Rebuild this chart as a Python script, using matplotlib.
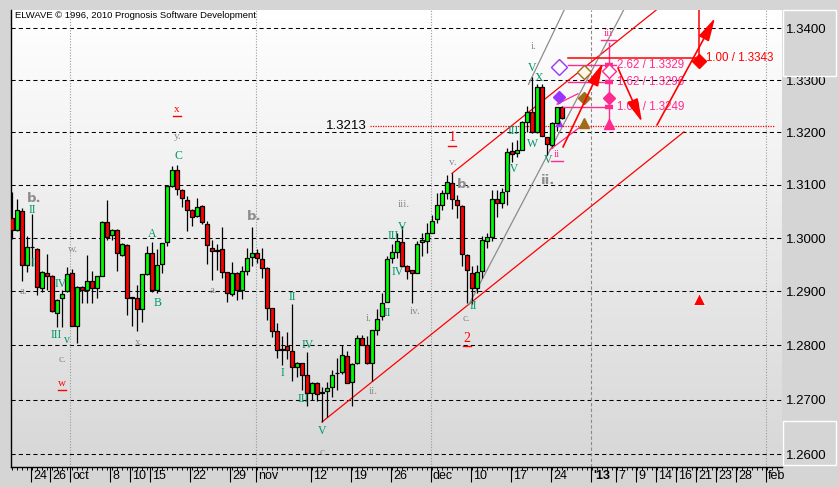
import numpy as np
import matplotlib
matplotlib.use("Agg")
import matplotlib.pyplot as plt
from matplotlib.transforms import offset_copy, blended_transform_factory
from matplotlib.patches import Rectangle
from matplotlib.ticker import NullLocator
from matplotlib.colors import LinearSegmentedColormap

# ---------------- data (EUR/USD style candles) ----------------
opens = [1.3037, 1.3015, 1.3050, 1.2950, 1.2984, 1.2980, 1.2907, 1.2935, 1.2928, 1.2860,
         1.2888, 1.2900, 1.2934, 1.2836, 1.2909, 1.2903, 1.2920, 1.2907, 1.2929, 1.3030,
         1.3005, 1.3016, 1.2969, 1.2986, 1.2887, 1.2887, 1.2868, 1.2932, 1.2971, 1.2903,
         1.2951, 1.2993, 1.3098, 1.3128, 1.3091, 1.3072, 1.3053, 1.3041, 1.3061, 1.3027,
         1.2981, 1.2976, 1.2980, 1.2936, 1.2896, 1.2935, 1.2902, 1.2939, 1.2965, 1.2971,
         1.2960, 1.2944, 1.2869, 1.2827, 1.2792, 1.2798, 1.2790, 1.2760, 1.2767, 1.2745,
         1.2712, 1.2731, 1.2712, 1.2716, 1.2723, 1.2748, 1.2751, 1.2781, 1.2733, 1.2767,
         1.2814, 1.2801, 1.2767, 1.2828, 1.2854, 1.2881, 1.2962, 1.2973, 1.2993, 1.2948,
         1.2940, 1.2935, 1.2992, 1.2995, 1.3010, 1.3035, 1.3063, 1.3085, 1.3104, 1.3071,
         1.3061, 1.2968, 1.2935, 1.2907, 1.2938, 1.2995, 1.3002, 1.3073, 1.3066, 1.3088,
         1.3164, 1.3160, 1.3167, 1.3220, 1.3238, 1.3200, 1.3287, 1.3191, 1.3175, 1.3218,
         1.3248]
highs = [1.3086, 1.3074, 1.3056, 1.3004, 1.3046, 1.2981, 1.2938, 1.2970, 1.2930, 1.2886,
         1.2902, 1.2945, 1.2942, 1.2910, 1.2910, 1.2968, 1.2938, 1.2929, 1.3032, 1.3071,
         1.3017, 1.3017, 1.2990, 1.2988, 1.2889, 1.2912, 1.2933, 1.2985, 1.2993, 1.2979,
         1.2991, 1.3099, 1.3136, 1.3138, 1.3092, 1.3079, 1.3055, 1.3076, 1.3062, 1.3032,
         1.2996, 1.2988, 1.3021, 1.2937, 1.2955, 1.2936, 1.2947, 1.2982, 1.3020, 1.2979,
         1.2982, 1.2945, 1.2870, 1.2842, 1.2818, 1.2825, 1.2876, 1.2769, 1.2768, 1.2788,
         1.2732, 1.2732, 1.2723, 1.2733, 1.2755, 1.2777, 1.2801, 1.2790, 1.2767, 1.2819,
         1.2819, 1.2818, 1.2829, 1.2867, 1.2898, 1.2966, 1.2988, 1.3010, 1.3023, 1.2949,
         1.2941, 1.2995, 1.3010, 1.3029, 1.3044, 1.3085, 1.3090, 1.3119, 1.3122, 1.3082,
         1.3062, 1.2970, 1.2948, 1.2950, 1.3003, 1.3010, 1.3091, 1.3091, 1.3094, 1.3170,
         1.3182, 1.3185, 1.3222, 1.3251, 1.3307, 1.3292, 1.3292, 1.3192, 1.3220, 1.3249,
         1.3250]
lows = [1.2998, 1.3013, 1.2920, 1.2936, 1.2947, 1.2893, 1.2899, 1.2903, 1.2862, 1.2834,
        1.2834, 1.2899, 1.2835, 1.2805, 1.2878, 1.2878, 1.2878, 1.2887, 1.2928, 1.2996,
        1.2996, 1.2938, 1.2967, 1.2857, 1.2836, 1.2826, 1.2843, 1.2931, 1.2899, 1.2898,
        1.2935, 1.2985, 1.3097, 1.3082, 1.3058, 1.3013, 1.3023, 1.3040, 1.3026, 1.2951,
        1.2922, 1.2940, 1.2926, 1.2880, 1.2892, 1.2884, 1.2886, 1.2931, 1.2948, 1.2953,
        1.2926, 1.2847, 1.2816, 1.2777, 1.2763, 1.2775, 1.2735, 1.2742, 1.2717, 1.2689,
        1.2700, 1.2697, 1.2659, 1.2669, 1.2705, 1.2717, 1.2747, 1.2730, 1.2689, 1.2766,
        1.2800, 1.2766, 1.2735, 1.2820, 1.2846, 1.2880, 1.2954, 1.2963, 1.2947, 1.2923,
        1.2879, 1.2934, 1.2966, 1.2972, 1.3009, 1.3028, 1.3052, 1.3073, 1.3054, 1.3038,
        1.2948, 1.2879, 1.2876, 1.2898, 1.2926, 1.2981, 1.2995, 1.3040, 1.3057, 1.3063,
        1.3144, 1.3154, 1.3166, 1.3200, 1.3199, 1.3198, 1.3193, 1.3157, 1.3171, 1.3203,
        1.3226]
closes = [1.3015, 1.3052, 1.2950, 1.2984, 1.2983, 1.2909, 1.2937, 1.2929, 1.2863, 1.2885,
          1.2896, 1.2932, 1.2836, 1.2909, 1.2903, 1.2919, 1.2906, 1.2928, 1.3031, 1.3002,
          1.3016, 1.2971, 1.2988, 1.2887, 1.2889, 1.2868, 1.2932, 1.2971, 1.2903, 1.2950,
          1.2990, 1.3098, 1.3128, 1.3092, 1.3076, 1.3053, 1.3040, 1.3059, 1.3031, 1.2987,
          1.2976, 1.2978, 1.2937, 1.2898, 1.2935, 1.2902, 1.2938, 1.2962, 1.2971, 1.2962,
          1.2944, 1.2870, 1.2826, 1.2792, 1.2794, 1.2791, 1.2760, 1.2768, 1.2745, 1.2712,
          1.2731, 1.2711, 1.2714, 1.2722, 1.2745, 1.2748, 1.2783, 1.2731, 1.2766, 1.2814,
          1.2801, 1.2767, 1.2828, 1.2848, 1.2879, 1.2960, 1.2973, 1.2995, 1.2948, 1.2938,
          1.2934, 1.2988, 1.2996, 1.3010, 1.3032, 1.3063, 1.3084, 1.3105, 1.3073, 1.3062,
          1.2970, 1.2940, 1.2907, 1.2937, 1.2996, 1.3002, 1.3073, 1.3066, 1.3087, 1.3162,
          1.3158, 1.3166, 1.3220, 1.3238, 1.3200, 1.3287, 1.3194, 1.3177, 1.3218, 1.3248,
          1.3227]

y_ticks = [1.26, 1.27, 1.28, 1.29, 1.30, 1.31, 1.32, 1.33, 1.34]
x_tick_pos = [3.74, 7.66, 11.66, 19.66, 23.66, 27.66, 35.66, 43.66, 48.74, 59.74,
              67.74, 75.74, 83.74, 91.74, 99.74, 107.74, 115.74, 120.74, 124.74,
              128.74, 132.74, 136.74, 140.74, 144.74, 150.74]
x_tick_labels = ['24', '26', 'oct', '8', '10', '15', '22', '29', 'nov', '12', '19', '26',
                 'dec', '10', '17', '24', "'13", '7', '9', '14', '16', '21', '23', '28', 'feb']
month_lines = [11.66, 48.74, 83.74, 150.74]
year_line = 115.74

fib_levels = [1.3329, 1.3296, 1.3249]
fib_ratios = ['2.62', '1.62', '1.00']
target_level = 1.3343
support_level = 1.3213

gray_labels = [('a.', 2.2, 1.2900), ('w.', 12.2, 1.2979), ('c.', 10.0, 1.2773),
               ('x.', 25.4, 1.2805), ('y.', 33.2, 1.3192), ('a.', 40.2, 1.2902),
               ('i.', 71.4, 1.2849), ('ii.', 72.2, 1.2714), ('c.', 62.2, 1.2603),
               ('iii.', 78.4, 1.3064), ('iv.', 80.6, 1.2862), ('v.', 88.2, 1.3142),
               ('c.', 90.8, 1.2849), ('i.', 104.4, 1.3364)]
gray_big_labels = [('b.', 4.4, 1.3074), ('b.', 48.4, 1.3041), ('b.', 90.4, 1.3100),
                   ('ii.', 107.2, 1.3108)]
green_labels = [('II', 4.0, 1.3052), ('I', 4.0, 1.2954), ('IV', 9.8, 1.2913),
                ('III', 8.9, 1.2820), ('v', 11.0, 1.2809), ('A', 28.0, 1.3007),
                ('B', 29.2, 1.2879), ('C', 33.2, 1.3155), ('II', 56.0, 1.2890),
                ('IV', 59.2, 1.2801), ('I', 54.0, 1.2748), ('III', 58.2, 1.2701),
                ('V', 62.0, 1.2643), ('II', 75.0, 1.2860), ('III', 76.2, 1.3004),
                ('V', 78.0, 1.3021), ('IV', 77.2, 1.2936), ('II', 92.3, 1.2873),
                ('IV', 100.2, 1.3131), ('III', 100.2, 1.3203), ('W', 104.2, 1.3178),
                ('V', 107.2, 1.3148), ('V', 104.0, 1.3324), ('X', 105.3, 1.3305)]
red_labels = [('x', 33.0, 1.3243, 8), ('w', 10.0, 1.2730, 8), ('1', 88.0, 1.3190, 10),
              ('2', 91.0, 1.2813, 10)]
magenta_labels = [('iii', 119.2, 1.3390), ('ii', 109.0, 1.3157)]

# ---------------- figure ----------------
W, H = 839, 487
BG = '#d5d5d5'
fig = plt.figure(figsize=(W / 100, H / 100), dpi=100)
fig.patch.set_facecolor(BG)
ax = fig.add_axes([11 / W, 20 / H, 771 / W, 457 / H])
ax.set_yscale('log')
ax.set_facecolor('none')

cmap = LinearSegmentedColormap.from_list('bg', ['#d7d7d7', '#ffffff'])
grad = np.linspace(0, 1, 256).reshape(-1, 1)
ax.imshow(grad, extent=[0, 1, 0, 1], transform=ax.transAxes, cmap=cmap,
          aspect='auto', origin='lower', zorder=0)

XMIN, XMAX = -0.2, 154
YMIN, YMAX = 1.25769, 1.34355

# grid
for yv in y_ticks:
    ax.axhline(yv, color='black', lw=0.75, ls=(0, (4, 3)), zorder=1)
for xv in month_lines:
    ax.axvline(xv, color='#9a9a9a', lw=0.8, ls=(0, (1, 1.5)), zorder=1)
ax.axvline(year_line, color='#8a8a8a', lw=0.8, ls=(0, (3, 2)), zorder=1)

# candles
o = np.array(opens); h = np.array(highs); l = np.array(lows); c = np.array(closes)
idx = np.arange(len(o))
up = c >= o
ax.vlines(idx, l, h, color='black', lw=0.9, zorder=3)
ax.bar(idx, np.abs(c - o), bottom=np.minimum(o, c), width=0.72,
       color=np.where(up, '#00ff00', '#ff0000'), edgecolor='black', linewidth=0.9, zorder=4)

RED = '#ff0000'
MAG = '#ff2a8f'
GREEN = '#00966a'
GRAY = '#8c8c8c'
PURPLE = '#9933ff'
BROWN = '#a06a18'

# channel lines
ax.plot([62, 134.4], [1.2659, 1.3201], color=RED, lw=0.9, zorder=2)
ax.plot([88, 132], [1.3122, 1.3460], color=RED, lw=0.9, zorder=2)
ax.plot([91.4, 123.6], [1.2876, 1.3459], color=GRAY, lw=0.9, zorder=2)
ax.plot([103.3, 111.6], [1.3292, 1.3459], color=GRAY, lw=0.9, zorder=2)
# magenta small lines
ax.plot([107.6, 113.6], [1.3167, 1.3210], color=MAG, lw=0.9, zorder=5)
ax.plot([109.0, 113.2], [1.3254, 1.3274], color=MAG, lw=0.9, zorder=5)

# support dotted line and label
ax.plot([71.6, 152.6], [support_level, support_level], color=RED, lw=0.9,
        ls=(0, (1, 1)), zorder=2)
ax.text(66.8, support_level, f'{support_level:.4f}', fontsize=9.5, family='Liberation Sans',
        ha='center', va='center', color='black', zorder=6)

# fib projections (magenta)
fib_start = [111.2, 111.2, 110.2]
for lvl, r, xs in zip(fib_levels, fib_ratios, fib_start):
    xe = 120.8 if r == '2.62' else 119.4
    ax.plot([xs, xe], [lvl, lvl], color=MAG, lw=1.0, zorder=5)
    ax.plot([118.6, 120.2], [lvl, lvl], color=MAG, lw=3.2, zorder=5, solid_capstyle='butt')
    ax.text(121.0, lvl, f'{r} / {lvl:.4f}', color=MAG, fontsize=8.3, family='Liberation Sans',
            ha='left', va='center', zorder=6)
ax.plot([119.4, 119.4], [1.3372, 1.3216], color=MAG, lw=1.0, zorder=5)
ax.plot([119.4], [1.3317], marker='D', ms=7, mfc='white', mec=MAG, mew=1.0, zorder=6)
ax.plot([119.4], [1.3265], marker='D', ms=6.5, color=MAG, zorder=6)
ax.plot([119.4], [1.3216], marker='^', ms=7, color=MAG, zorder=6)

# purple & brown markers
ax.plot([109.4], [1.3326], marker='D', ms=8, mfc='white', mec=PURPLE, mew=1.0, zorder=6)
ax.plot([109.3], [1.3268], marker='D', ms=6.5, color=PURPLE, zorder=6)
ax.plot([109.3], [1.3217], marker='^', ms=5, color=PURPLE, zorder=3.5)
ax.plot([114.3], [1.3316], marker='D', ms=7, mfc='#fff8e8', mec=BROWN, mew=1.0, zorder=6)
ax.plot([114.3], [1.3265], marker='D', ms=6.5, color=BROWN, zorder=6)
ax.plot([114.3], [1.3217], marker='^', ms=7, color=BROWN, zorder=6)

# red target
ax.plot([111.2, 137.6], [1.3342, 1.3342], color=RED, lw=1.1, zorder=5)
ax.plot([137.3, 137.3], [1.3460, 1.3342], color=RED, lw=1.1, zorder=5)
ax.plot([137.3], [1.3337], marker='D', ms=7, color=RED, zorder=6)
ax.text(138.8, 1.3342, f'1.00 / {target_level:.4f}', color=RED, fontsize=8.3,
        family='Liberation Sans', ha='left', va='center', zorder=6)
ax.plot([137.3], [1.2886], marker='^', ms=8, color=RED, mec='white', mew=0.6, zorder=6)

# red projection arrows
arrows = [((110.2, 1.3172), (118.2, 1.3333)),
          ((121.2, 1.3323), (126.0, 1.3220)),
          ((129.0, 1.3214), (140.6, 1.3420))]
for (x0, y0), (x1, y1) in arrows:
    ax.annotate('', xy=(x1, y1), xytext=(x0, y0),
                arrowprops=dict(arrowstyle='-|>,head_length=1.4,head_width=0.35',
                                color=RED, lw=1.2, shrinkA=0, shrinkB=0), zorder=6)

# wave labels
for s, x, y in gray_labels:
    ax.text(x, y, s, color=GRAY, fontsize=8, family='Liberation Serif', ha='center',
            va='center', zorder=6)
for s, x, y in gray_big_labels:
    ax.text(x, y, s, color=GRAY, fontsize=9.5, family='DejaVu Sans', fontweight='bold',
            ha='center', va='center', zorder=6)
for s, x, y in green_labels:
    ax.text(x, y, s, color=GREEN, fontsize=8.5, family='Liberation Serif', ha='center',
            va='center', zorder=6)


def underlined(s, x, y, color, size):
    ax.text(x, y, s, color=color, fontsize=size, family='Liberation Serif', ha='center',
            va='center', zorder=6)
    tr = offset_copy(ax.transData, fig=fig, x=0, y=-0.58 * size, units='points')
    half = 0.35 * len(s) + 0.45
    ax.plot([x - half, x + half], [y, y], transform=tr, color=color, lw=1.0, zorder=6)


for s, x, y, sz in red_labels:
    underlined(s, x, y, RED, sz)
for s, x, y in magenta_labels:
    underlined(s, x, y, MAG, 8)
ax.text(109.1, 1.3256, 'i', color=MAG, fontsize=6, family='Liberation Serif',
        ha='center', va='center', zorder=6)

# axes styling
ax.set_xlim(XMIN, XMAX)
ax.set_ylim(YMIN, YMAX)
for side in ['top', 'right']:
    ax.spines[side].set_visible(False)
ax.spines['left'].set_color('black')
ax.spines['bottom'].set_color('black')
ax.spines['left'].set_linewidth(1.0)
ax.spines['bottom'].set_linewidth(1.0)

ax.yaxis.tick_right()
ax.set_yticks(y_ticks)
ax.set_yticklabels([f'{v:.4f}' for v in y_ticks])
ax.yaxis.set_minor_locator(NullLocator())
ax.tick_params(axis='y', which='both', length=0, pad=2.5, labelsize=9.5)
for t in ax.get_yticklabels():
    t.set_family('Liberation Sans')

ax.set_xticks(x_tick_pos)
ax.set_xticklabels([])
ax.set_xticks(np.arange(0, 154), minor=True)
ax.tick_params(axis='x', which='major', length=11, width=0.8, color='black', direction='out')
ax.tick_params(axis='x', which='minor', length=2, width=0.7, color='black', direction='out')
trans = blended_transform_factory(ax.transData, ax.transAxes)
for pos, lab in zip(x_tick_pos, x_tick_labels):
    ax.text(pos + 0.45, -0.02, lab, transform=trans, ha='left', va='center', fontsize=9,
            family='Liberation Sans', fontweight='bold' if lab == "'13" else 'normal',
            clip_on=False)

# right panel boxes
fig.patches.append(Rectangle((783 / W, 1 - 76 / H), 53 / W, 66 / H, transform=fig.transFigure,
                             fill=False, edgecolor='white', lw=1.0))
fig.patches.append(Rectangle((783 / W, 1 - 465 / H), 53 / W, 44 / H, transform=fig.transFigure,
                             fill=False, edgecolor='white', lw=1.0))

fig.text(15 / W, 1 - 15 / H, 'ELWAVE \u00a9 1996, 2010 Prognosis Software Development',
         fontsize=6.8, family='Liberation Sans', ha='left', va='center', color='black')

fig.savefig('out.png', dpi=100, facecolor=fig.get_facecolor())
